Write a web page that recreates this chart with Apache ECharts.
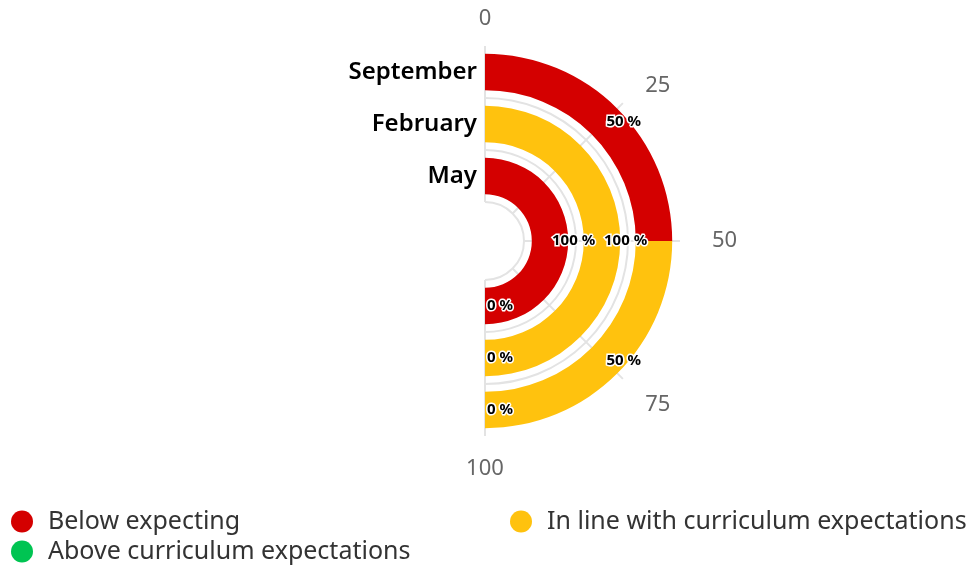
<!DOCTYPE html>
<html>
<head>
<meta charset="utf-8">
<script src="https://cdn.jsdelivr.net/npm/echarts@6/dist/echarts.min.js"></script>
<style>
  html, body { margin: 0; padding: 0; background: #fff; }
  #chart { width: 970px; height: 568px; }
</style>
</head>
<body>
<div id="chart"></div>
<script>
// months, inner ring -> outer ring
const months = ['May', 'February', 'September'];
const seriesNames = ['Below expecting', 'In line with curriculum expectations', 'Above curriculum expectations'];
const belowData = [100, 0, 50];
const inLineData = [0, 100, 50];
const aboveData = [0, 0, 0];
const angleTicks = [0, 25, 50, 75, 100];

const FONT = 'Noto Sans';
const gridColor = '#e3e3e3';

// 环形柱子
function ringSeries(name, data, color, showZero) {
  return {
    name: name,
    type: 'bar',
    coordinateSystem: 'polar',
    stack: 'total',
    barWidth: '70%',
    data: data,
    itemStyle: { color: color },
    label: {
      show: true,
      position: 'middle',
      rotate: 0,
      align: 'left',
      verticalAlign: 'middle',
      padding: [0, 0, 0, 2],
      formatter: function (p) {
        if (p.value === 0 && !showZero) return '';
        return p.value + ' %';
      },
      fontFamily: FONT,
      fontSize: 15,
      fontWeight: 'bold',
      color: '#000',
      textBorderColor: '#fff',
      textBorderWidth: 3
    }
  };
}

// 角度轴刻度文字的微调（每个刻度一个样式）
const tickPads = [[0, 0, 7, 0], [0, 0, 0, 16], [0, 0, 0, 23], [8, 0, 0, 16], [13, 0, 0, 0]];
const tickRich = {};
angleTicks.forEach(function (v, i) {
  tickRich['t' + i] = { color: '#666', fontFamily: FONT, fontSize: 22, padding: tickPads[i] };
});

const chart = echarts.init(document.getElementById('chart'));
const legendText = { fontFamily: FONT, fontSize: 25, color: '#333', padding: [0, 0, 0, 5] };

chart.setOption({
  animation: false,
  polar: {
    center: [485, 241],
    radius: [39, 195]
  },
  angleAxis: {
    type: 'value',
    min: 0,
    max: 100,
    interval: 25,
    startAngle: 90,
    endAngle: -90,
    clockwise: true,
    axisLine: { show: false },
    axisTick: { show: false },
    axisLabel: {
      color: '#666', fontFamily: FONT, fontSize: 22, margin: 9,
      formatter: function (v) {
        const i = angleTicks.indexOf(v);
        return '{t' + i + '|' + v + '}';
      },
      rich: tickRich
    },
    splitLine: { show: true, lineStyle: { color: gridColor, width: 2, type: 'solid' } }
  },
  radiusAxis: {
    type: 'category',
    data: months,
    axisLine: { show: false },
    axisTick: { show: false },
    axisLabel: { interval: 0, color: '#000', fontFamily: FONT, fontSize: 24, fontWeight: 600, margin: 8 },
    // 最外圈不画
    splitLine: { show: true, lineStyle: { color: [gridColor, gridColor, gridColor, 'rgba(0,0,0,0)'], width: 2 } }
  },
  legend: [
    {
      data: [seriesNames[0], seriesNames[2]],
      orient: 'vertical',
      left: 11,
      top: 509,
      padding: 0,
      icon: 'circle',
      itemWidth: 32,
      itemHeight: 22,
      itemGap: 5,
      textStyle: legendText
    },
    {
      data: [seriesNames[1]],
      orient: 'vertical',
      left: 510,
      top: 509,
      padding: 0,
      icon: 'circle',
      itemWidth: 32,
      itemHeight: 22,
      textStyle: legendText
    }
  ],
  series: [
    ringSeries(seriesNames[0], belowData, '#d40000', false),
    ringSeries(seriesNames[1], inLineData, '#ffc20e', false),
    ringSeries(seriesNames[2], aboveData, '#00c452', true)
  ]
});
</script>
</body>
</html>
